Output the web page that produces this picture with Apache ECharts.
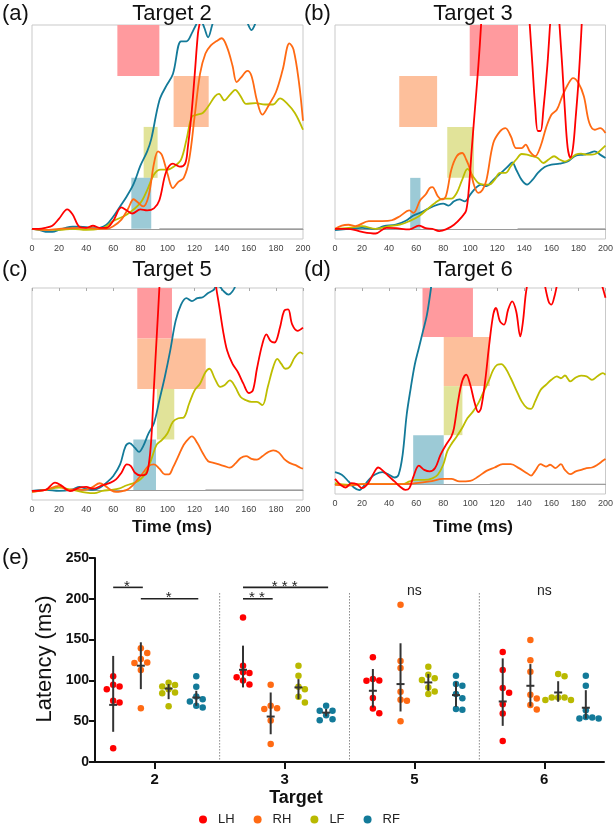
<!DOCTYPE html>
<html style="height: 100%">
<head>
    <meta charset="utf-8">
</head>
<body style="height: 100%; margin: 0">
    <div id="container" style="width: 616px; height: 828px"></div>
    <script src="https://cdn.jsdelivr.net/npm/echarts@6/dist/echarts.min.js"></script>
    <script type="text/javascript">
        // ---- top panels: activation traces (time ms, arbitrary units) ----
        var a_LH = [[0,0],[5,0],[10,0.5],[15,1.5],[20,5],[26,9.5],[30,7],[35,1],[40,0.5],[45,1.5],[50,0.5],[55,0.5],[60,4],[66,10.5],[70,9],[74,7.5],[80,9.5],[85,9],[90,10],[94,14],[99,28],[104,32],[109,30.5],[113,32],[115,40],[117.5,55],[120,75],[122.5,96],[124,102],[126,115],[128,130]];
        var a_RH = [[0,0],[10,-0.5],[20,0],[30,0.3],[40,0.5],[50,0],[55,0],[60,1.3],[66,4.5],[71,10],[75,14.5],[78,13],[82,11],[86,16],[90,32],[93,38],[96,36],[100,27],[104,20],[108,23],[112,25],[116,34],[120,55],[124,76],[128,86],[132,90],[136,92],[140,93.5],[144,89],[148,80],[151,72],[154,74],[159,77.5],[162,75],[166,63],[170,56],[175,61],[180,67],[185,78],[190,91],[193,88],[197,72],[200,53]];
        var a_LF = [[0,0],[10,-0.5],[20,-0.5],[30,0],[40,-0.5],[50,0],[55,1.3],[60,3.8],[70,7],[80,12.7],[85,19],[90,26.6],[95,29],[100,29],[105,30.7],[110,34],[114,43.7],[118,55],[122,56],[126,56.8],[130,60],[135,65],[138,66.2],[142,63],[146,65.7],[150,68.2],[154,65],[158,61.3],[165,61.7],[172,61],[178,61],[183,64],[188,61.7],[194,56.8],[200,48.6]];
        var a_RF = [[0,0],[5,-0.5],[10,-1.5],[15,-1.5],[20,-0.5],[25,0.5],[30,1],[35,1],[40,0.8],[45,0.3],[50,0.5],[55,2],[60,6],[65,11],[70,16],[75,22],[80,31],[85,38],[88,44],[94,63],[99,70],[104,76],[110,92],[114,92],[118,96],[121,100],[124,103],[127,99],[130,94],[133,100],[137,108],[145,112],[155,106],[159,101],[162,97.5],[165,101],[170,110],[180,115],[200,115]];

        var b_LH = [[0,0],[10,0],[20,-1.5],[30,-2.3],[38,0.5],[45,0.3],[55,-0.3],[62,1.6],[67,0.3],[72,0],[77,-1.1],[82,-0.3],[88,2],[94,6],[97,9],[99,20],[101,38],[103,55],[106,80],[108,100],[110,125],[114,150],[138,150],[142,120],[144,100],[146,80],[148,60],[150,48],[152,48],[154,58],[157,80],[159,100],[161,120],[164,122],[166,100],[168,80],[170,58],[172,40],[174,35],[176,40],[178,55],[180,72],[182,95],[184,120],[188,150],[200,150]];
        var b_RH = [[0,0],[5,1.6],[10,2],[15,1.3],[25,3.8],[35,3.8],[42,4.2],[48,6.2],[55,9],[58,7.8],[63,14],[67,16.8],[70,20],[72,20.5],[76,16],[79,14.4],[82,16],[86,29],[90,35.6],[94,37.2],[97,34],[100,29],[103,21],[106,17.6],[109,19],[112,24],[117,42],[122,47.8],[126,49.4],[130,45.4],[134,39.6],[138,39.6],[141,41.3],[144,38],[148,35.6],[152,40.5],[156,49.4],[160,56],[164,58.4],[168,65],[172,70.6],[176,73.9],[180,71.5],[184,65],[188,52],[192,48.6],[196,49.4],[200,47]];
        var b_LF = [[0,0],[10,0.5],[20,1.3],[30,0],[40,1.3],[48,2],[55,3.8],[62,6.2],[68,9.5],[74,12.7],[80,14.8],[86,14.8],[90,17.6],[94,24],[98,29.4],[102,25.8],[106,22.5],[110,21.7],[114,21.7],[118,24],[122,27.4],[126,27.4],[130,30.7],[134,34],[138,36.7],[142,36.4],[146,35.6],[150,34.7],[154,32.3],[158,34],[162,35.6],[166,34],[170,33],[174,34.3],[178,36.4],[182,36.9],[186,36.4],[190,36.4],[194,37.2],[198,39.6],[200,40.8]];
        var b_RF = [[0,-0.6],[10,0],[20,0.5],[30,0],[36,1.3],[45,2],[52,3.8],[58,6.5],[64,8.2],[70,10.3],[76,11.9],[80,12.4],[84,11.4],[88,13.5],[92,14.4],[96,13.5],[100,16.8],[104,20],[108,21.7],[112,20.9],[116,23.3],[120,25.8],[124,28.2],[128,30.7],[131,32.6],[134,29],[138,24],[142,21.7],[146,24],[150,27.4],[155,30.3],[160,31.5],[166,32],[172,33],[178,35.9],[184,36.4],[188,37.2],[192,38],[196,36.4],[200,34.7]];

        var c_LH = [[0,-0.5],[10,0],[17,3.6],[22,2],[28,-0.6],[35,1.1],[40,1.5],[45,0.6],[52,2.3],[58,3.6],[62,5.2],[66,8.5],[70,12.6],[73,11.8],[76,8.5],[80,7.2],[84,7.7],[86,11.8],[88,24.8],[90,51],[92,75.5],[94,100],[96,130],[98,160],[130,160],[134,112],[136,100],[138,91.8],[141,78.8],[144,69],[148,62.4],[152,58.3],[156,52.6],[160,48],[163,49.3],[166,60],[170,72.2],[173,77],[176,73.8],[179,73],[183,80.4],[186,88.6],[189,89.4],[192,82],[196,78.8],[200,80.4]];
        var c_RH = [[0,-1],[10,0],[20,2],[26,0],[32,0.3],[38,0],[44,1.1],[50,3.3],[54,2],[58,0],[62,-1],[66,-0.7],[70,0],[74,2],[78,5.2],[82,8.5],[86,11.8],[90,12.6],[94,10.5],[98,7.7],[101,7.7],[104,11],[108,16.7],[112,22.4],[116,25.7],[118,26.5],[122,23.2],[126,18.3],[130,14.2],[134,13.4],[138,12.6],[142,11.8],[146,11],[150,13],[154,15.8],[158,16.7],[162,15.4],[166,15],[170,16.7],[174,18.6],[178,19.6],[182,18.6],[186,15.4],[190,13.4],[194,12.4],[198,11],[200,10.5]];
        var c_LF = [[0,-1],[10,0],[20,1.1],[30,0],[40,-1.3],[46,-1.6],[52,-0.5],[58,0],[64,0.6],[70,2.3],[76,3.6],[80,5.2],[84,8.5],[88,15],[92,22.4],[96,24.8],[100,28.1],[104,33.8],[108,35.5],[112,35.9],[116,42.8],[120,49.3],[124,52.6],[128,58.3],[131,60],[135,55],[139,51],[142,51.8],[146,54.2],[150,51],[154,46],[158,44.4],[162,43.6],[166,43.6],[170,42],[174,51],[178,60.8],[181,64.9],[184,62.4],[187,60],[190,60.8],[194,65.7],[198,68.1],[200,67.3]];
        var c_RF = [[0,-0.5],[10,0],[20,-0.5],[30,0.3],[35,1.5],[40,0.6],[45,0],[50,1.1],[55,3.6],[60,6.9],[65,12.6],[69,21.6],[72,23.2],[76,20.8],[79,18.8],[82,21.6],[86,28],[90,33],[94,44.4],[98,55.9],[102,69],[106,83.7],[110,91.8],[114,95],[118,93.5],[122,95],[126,95.4],[130,97.5],[134,99],[136,100.8],[138,100.8],[141,98.7],[145,96.7],[148,98.4],[150,101],[153,110],[160,120],[200,120]];

        var d_LH = [[0,2.7],[4,-0.3],[8,-1.7],[12,0.5],[16,0],[20,-2],[24,0],[28,4.8],[32,8.5],[36,6.5],[40,3.9],[44,1.4],[48,-1.2],[52,-2.9],[55,-2],[58,3.9],[62,9.5],[66,7.3],[70,6.5],[74,8.2],[78,15],[82,20],[86,24.3],[88,28.6],[91,42.2],[94,52.4],[97,55.8],[100,50.7],[103,42.2],[106,36.7],[108,38.8],[111,52.4],[114,71],[117,86.4],[119,89.8],[122,83],[125,81.3],[128,89],[131,93.2],[134,88],[137,75.3],[139,83],[141,96.6],[143,105],[146,115],[152,112],[155,102],[158,93],[160,91.5],[162,95],[164,101],[167,110],[175,115],[190,115],[196,104],[198,100],[200,95]];
        var d_RH = [[0,-0.3],[10,-0.7],[20,0],[30,0],[40,0],[50,0],[60,0.5],[70,1.4],[80,2.7],[86,2.7],[92,1.4],[100,1.7],[106,3.9],[112,6.8],[118,8.5],[124,10.2],[130,10.2],[136,8.2],[142,5.6],[145,4.4],[148,6.8],[152,10.2],[156,9],[159,9.9],[163,8.2],[167,10.2],[170,7.3],[174,5.1],[178,6.5],[182,7.3],[186,8.2],[190,8.5],[194,9.9],[198,11.9],[200,12.9]];
        var d_LF = [[0,0.5],[10,-0.3],[20,0],[30,0],[40,0],[50,0],[55,1.4],[60,2.2],[66,2.2],[72,3],[76,4.8],[80,9.9],[83,16.7],[86,20.4],[90,24.3],[94,28.6],[98,33.7],[102,37],[106,41.3],[110,47.3],[114,53.2],[117,58.3],[120,60.9],[123,61.2],[126,59.2],[130,54],[134,48],[138,42.2],[142,38.8],[145,38.4],[148,42.2],[152,48],[156,50.7],[160,53.2],[164,55],[167,54],[170,55.4],[174,52.4],[178,54.4],[182,55.3],[186,55],[190,53.2],[194,55],[198,56.6],[200,55.8]];
        var d_RF = [[0,6.1],[5,4.8],[10,1.4],[14,-1.7],[18,-3],[22,-0.3],[26,3],[30,5.1],[35,6.1],[40,4.8],[44,3.4],[47,4.8],[50,15],[53,35.4],[56,49],[59,61],[62,69.4],[65,77.9],[68,86.4],[71,100],[73,110],[76,125],[80,140]];

        // onset windows per limb (x-range in ms), order LH, RH, LF, RF
        var boxesA = [[63,94],[104.5,130.4],[82.4,92.7],[73.3,88]];
        var boxesB = [[99.6,135.3],[47.5,75.5],[83,102.8],[55.6,63.2]];
        var boxesC = [[77.7,103.3],[77.7,128.2],[92.2,105],[74.8,91.5]];
        var boxesD = [[64.7,102],[80.4,114.4],[80.4,94.2],[57.8,80.4]];
        var boxBands = [[75,100],[50,75],[25,50],[0,25]];
        var baseStart = [94,135,128,114.5];

        // ---- panel (e): latencies ----
        var targets = ['2','3','5','6'];
        var groups = ['LH','RH','LF','RF'];
        var latLH = [[105,92.6,94.7,89.3,75,73,16.8],[177,118,110,109,104,100,95],[128.3,101.6,99.6,100,78.3,65.6,59.8],[134.8,112.7,90.6,84.8,70.9,59.4,25.8]];
        var latRH = [[139.3,133.6,126.2,122,121.3,112.7,66],[94.7,68.9,66,64.8,50.8,22.1],[192.6,123.8,115.2,86,76.2,75,50],[149.6,124.6,110.7,82.4,77.9,70,64.3]];
        var latLF = [[97,94.3,92.6,89.3,85.2,84.4,68.4],[118,105.7,89.3,92.2,73,80],[116.8,107,102.5,100.4,91.4,83.2,86.5],[107.8,105,79,79,79,76,76]];
        var latRF = [[105,92.2,77,80.3,74.2,66.8,68.9],[68.9,62.7,62.7,57.4,51.2,52.5],[105.7,93.4,95.5,78,83.2,64,64.8],[105.7,93.4,63.5,53.3,53.3,54.5,55]];
        var meanLH = [70,113,87.3,74.2], loLH = [37,91.4,66.8,44.3], hiLH = [130,142.6,114,127];
        var meanRH = [118,55.7,95.5,93.4], loRH = [89.3,34,61.9,68], hiRH = [146.7,85.2,145.5,120];
        var meanLF = [90,91.4,97.5,85.2], loLF = [77,77,87.3,73.8], hiLF = [95.5,101.6,107.8,99];
        var meanRF = [79,60.5,82,66.5], loRF = [68.9,56,67.6,53], hiRF = [87.3,65,98.4,88];
        var sigTarget = [0,0,1,1], sigFrom = [0,1,0,0], sigTo = [1,3,1,3];
        var sigY = [214,200,200,214], sigText = ['*','*','* *','* * *'];
        var nsTarget = [2,3], nsY = 209;

        var dom = document.getElementById("container");
        var myChart = echarts.init(dom);
        var FONT = 'Liberation Sans';
        var NARROW = '"Liberation Sans Narrow", "Liberation Sans"';
        var lineColors = ['#ff0000','#ff6a13','#bdbd00','#137a99'];
        var dotColors = ['#ff0000','#ff6a13','#b9b900','#137a99'];
        var boxColors = ['#ff9a9e','#fdbf9b','#e1e399','#9ccad6'];
        var groupOff = [-0.32,-0.107,0.107,0.32];

        var panels = [
            {key:'a', left:32, top:25, height:214, curves:[a_LH,a_RH,a_LF,a_RF], boxes:boxesA, ticksTop:false},
            {key:'b', left:335, top:25, height:214, curves:[b_LH,b_RH,b_LF,b_RF], boxes:boxesB, ticksTop:false},
            {key:'c', left:32, top:288, height:212, curves:[c_LH,c_RH,c_LF,c_RF], boxes:boxesC, ticksTop:true},
            {key:'d', left:335, top:288, height:206, curves:[d_LH,d_RH,d_LF,d_RF], boxes:boxesD, ticksTop:true}
        ];

        var grids = [], xAxes = [], yAxes = [], series = [], extraX = [];
        panels.forEach(function (p, i) {
            grids.push({left:p.left, top:p.top, width:271, height:p.height, show:true, borderColor:'#c9c9c9', borderWidth:1});
            xAxes.push({gridIndex:i, type:'value', min:0, max:200, interval:20,
                axisLine:{lineStyle:{color:'#9a9a9a'}}, axisTick:{show:false},
                axisLabel:{fontSize:9, color:'#444', margin:5, fontFamily:FONT}, splitLine:{show:false}});
            if (p.ticksTop) {
                extraX.push({gridIndex:i, type:'value', position:'top', min:0, max:200, interval:20,
                    axisLine:{show:false}, axisLabel:{show:false}, splitLine:{show:false},
                    axisTick:{inside:true, length:3, lineStyle:{color:'#aaa'}}});
            }
            yAxes.push({gridIndex:i, type:'value', min:-5, max:100, show:false});
            series.push({type:'line', name:p.key + '-base', xAxisIndex:i, yAxisIndex:i,
                data:[[baseStart[i],0],[200,0]], symbol:'none', silent:true, z:1,
                lineStyle:{color:'#a0a0a0', width:1},
                markArea:{silent:true, data:p.boxes.map(function (b, k) {
                    return [{xAxis:b[0], yAxis:boxBands[k][0], itemStyle:{color:boxColors[k], opacity:1}},
                            {xAxis:b[1], yAxis:boxBands[k][1]}];
                })}});
            [3,2,1,0].forEach(function (k) {
                series.push({type:'line', name:p.key + '-' + groups[k], xAxisIndex:i, yAxisIndex:i,
                    data:p.curves[k], smooth:0.35, symbol:'none', z:3, clip:true,
                    lineStyle:{color:lineColors[k], width:1.8}});
            });
        });

        // panel (e) grid
        var E = 4;
        var eLeft = 95, eWidth = 509, eTop = 558, eHeight = 204, xMin = -0.46, xMax = 3.46;
        grids.push({left:eLeft, top:eTop, width:eWidth, height:eHeight});
        xAxes.push({gridIndex:E, type:'value', min:xMin, max:xMax,
            axisLine:{onZero:false, lineStyle:{color:'#111', width:2}},
            axisTick:{customValues:[0,1,2,3], length:7, lineStyle:{color:'#111', width:2}},
            axisLabel:{customValues:[0,1,2,3], formatter:function (v) { return targets[Math.round(v)]; },
                fontSize:15, fontWeight:'bold', color:'#111', margin:10, fontFamily:FONT},
            splitLine:{show:false}});
        yAxes.push({gridIndex:E, type:'value', min:0, max:250, interval:50,
            axisLine:{show:true, onZero:false, lineStyle:{color:'#111', width:2}},
            axisTick:{show:true, length:6, lineStyle:{color:'#111', width:2}},
            axisLabel:{fontSize:14, fontWeight:'bold', color:'#111', margin:6, fontFamily:FONT},
            splitLine:{show:false}});
        extraX.forEach(function (a) { xAxes.push(a); });

        // simple beeswarm so dots don't overlap
        var pxX = eWidth / (xMax - xMin), pxY = eHeight / 250, dotD = 6.4;
        function swarm(vals, cx) {
            var placed = [];
            var sorted = vals.slice().sort(function (a, b) { return b - a; });
            return sorted.map(function (v) {
                var off = 0;
                for (var s = 0; s < 20; s++) {
                    off = s === 0 ? 0 : (s % 2 ? 1 : -1) * Math.ceil(s / 2) * dotD;
                    var ok = placed.every(function (q) {
                        var dx = q[0] - off, dy = (q[1] - v) * pxY;
                        return dx * dx + dy * dy >= dotD * dotD * 0.92;
                    });
                    if (ok) break;
                }
                placed.push([off, v]);
                return [cx + off / pxX, v];
            });
        }

        // dotted separators between targets
        series.push({type:'custom', name:'sep', xAxisIndex:E, yAxisIndex:E, silent:true, z:1,
            data:[0.5,1.5,2.5].map(function (x) { return [x, 3, 208]; }),
            renderItem:function (params, api) {
                var p1 = api.coord([api.value(0), api.value(1)]);
                var p2 = api.coord([api.value(0), api.value(2)]);
                return {type:'line', shape:{x1:p1[0], y1:p1[1], x2:p2[0], y2:p2[1]},
                    style:{stroke:'#888', lineWidth:1, lineDash:[1.5,1.5]}};
            }});

        var lat = [latLH, latRH, latLF, latRF];
        var means = [meanLH, meanRH, meanLF, meanRF];
        var los = [loLH, loRH, loLF, loRF];
        var his = [hiLH, hiRH, hiLF, hiRF];
        groups.forEach(function (g, k) {
            var pts = [];
            targets.forEach(function (t, ti) { pts = pts.concat(swarm(lat[k][ti], ti + groupOff[k])); });
            series.push({type:'scatter', name:g, xAxisIndex:E, yAxisIndex:E, data:pts,
                symbolSize:6.5, itemStyle:{color:dotColors[k], opacity:1}, z:3});
        });

        var barData = [];
        groups.forEach(function (g, k) {
            targets.forEach(function (t, ti) {
                barData.push([ti + groupOff[k], means[k][ti], los[k][ti], his[k][ti]]);
            });
        });
        series.push({type:'custom', name:'sd', xAxisIndex:E, yAxisIndex:E, silent:true, z:5, data:barData,
            renderItem:function (params, api) {
                var c = api.coord([api.value(0), api.value(1)]);
                var lo = api.coord([api.value(0), api.value(2)]);
                var hi = api.coord([api.value(0), api.value(3)]);
                var st = {stroke:'#333', lineWidth:2};
                return {type:'group', children:[
                    {type:'line', shape:{x1:c[0], y1:lo[1], x2:c[0], y2:hi[1]}, style:st},
                    {type:'line', shape:{x1:c[0] - 4, y1:c[1], x2:c[0] + 4, y2:c[1]}, style:st}
                ]};
            }});

        // significance bars
        series.push({type:'custom', name:'sig', xAxisIndex:E, yAxisIndex:E, silent:true, z:5,
            data:sigY.map(function (y, i) { return [sigTarget[i] + groupOff[sigFrom[i]], y, sigTarget[i] + groupOff[sigTo[i]]]; }),
            renderItem:function (params, api) {
                var i = params.dataIndex;
                var p1 = api.coord([api.value(0), api.value(1)]);
                var p2 = api.coord([api.value(2), api.value(1)]);
                return {type:'group', children:[
                    {type:'line', shape:{x1:p1[0], y1:p1[1], x2:p2[0] + 2, y2:p1[1]}, style:{stroke:'#222', lineWidth:1.6}},
                    {type:'text', style:{text:sigText[i], x:(p1[0] + p2[0]) / 2, y:p1[1] - 1, align:'center', verticalAlign:'middle',
                        font:'15px ' + FONT, fill:'#222'}}
                ]};
            }});
        series.push({type:'custom', name:'ns', xAxisIndex:E, yAxisIndex:E, silent:true, z:5,
            data:nsTarget.map(function (t) { return [t, nsY]; }),
            renderItem:function (params, api) {
                var p = api.coord([api.value(0), api.value(1)]);
                return {type:'text', style:{text:'ns', x:p[0], y:p[1], align:'center', verticalAlign:'middle',
                    font:'14px ' + FONT, fill:'#222'}};
            }});

        function label(text, x, y, size, extra) {
            var o = {type:'text', x:x, y:y, silent:true,
                style:{text:text, fontSize:size, fontFamily:FONT, fill:'#111', align:'center', verticalAlign:'middle'}};
            if (extra) { for (var k in extra) { if (k === 'style') { for (var s in extra.style) o.style[s] = extra.style[s]; } else o[k] = extra[k]; } }
            return o;
        }
        var graphics = [
            label('(a)', 2, 14, 22, {style:{align:'left'}}),
            label('Target 2', 172, 14, 22),
            label('(b)', 304, 14, 22, {style:{align:'left'}}),
            label('Target 3', 473, 14, 22),
            label('(c)', 2, 270, 22, {style:{align:'left'}}),
            label('Target 5', 172, 270, 22),
            label('(d)', 304, 270, 22, {style:{align:'left'}}),
            label('Target 6', 473, 270, 22),
            label('Time (ms)', 172, 527, 17, {style:{fontWeight:'bold', fontFamily:NARROW}}),
            label('Time (ms)', 473, 527, 17, {style:{fontWeight:'bold', fontFamily:NARROW}}),
            label('(e)', 2, 558, 22, {style:{align:'left'}}),
            label('Latency (ms)', 45, 659, 22, {rotation:Math.PI / 2}),
            label('Target', 296, 798, 18, {style:{fontWeight:'bold', fontFamily:NARROW}})
        ];

        var option = {
            animation: false,
            textStyle: {fontFamily: FONT},
            grid: grids,
            xAxis: xAxes,
            yAxis: yAxes,
            legend: {data: groups, left: 199, top: 813, padding: 0, icon: 'circle', itemWidth: 20, itemHeight: 8, itemGap: 19,
                textStyle: {fontSize: 13, color: '#222', fontFamily: FONT}},
            graphic: graphics,
            series: series
        };
        myChart.setOption(option);
    </script>
</body>
</html>
